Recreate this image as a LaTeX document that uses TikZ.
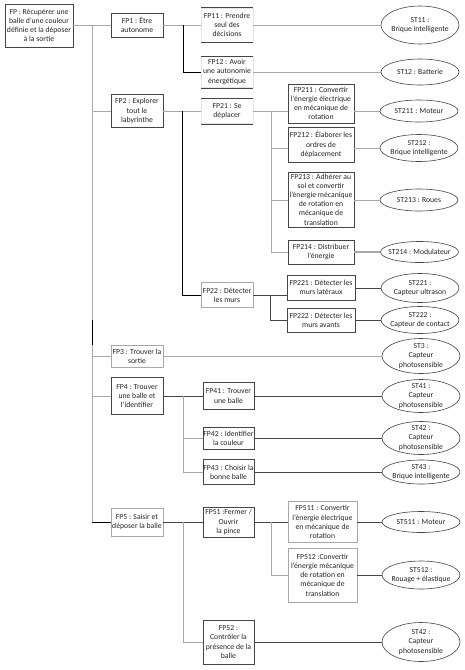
\documentclass[tikz,border=0pt]{standalone}
\usepackage{fontspec}
\setmainfont{Carlito}
\usetikzlibrary{shapes.geometric}
\definecolor{txt}{HTML}{262626}
\definecolor{ln}{HTML}{A8A8A8}
\definecolor{lnd}{HTML}{454545}
\begin{document}
\begin{tikzpicture}[x=1pt,y=-1pt,
  font=\fontsize{7.7}{9.2}\selectfont, text=txt,
  box/.style={rectangle, draw=lnd, line width=0.6pt, inner sep=0.5pt, align=center, fill=white},
  lbox/.style={box, draw=ln},
  tbbox/.style={box, draw=gray!20},
  st/.style={ellipse, draw=lnd, line width=0.6pt, inner sep=0pt, minimum width=78pt, fill=white},
  stl/.style={align=center, inner sep=0pt},
  conn/.style={draw=ln, line width=0.8pt},
  dconn/.style={draw=lnd, line width=0.7pt},
  bconn/.style={draw=black, line width=0.8pt},
  tb/.style={draw=lnd, line width=0.6pt}]
\useasboundingbox (0,0) rectangle (465,670);

% ---------- level 0 / 1 boxes ----------
\node[box, minimum width=68pt, minimum height=43pt] (fp) at (39,25.5) {FP : Récupérer une\\balle d'une couleur\\définie et la déposer\\à la sortie};
\node[box, minimum width=52pt, minimum height=24pt] (fp1) at (137,25) {FP1 : Être\\autonome};
\node[box, minimum width=52pt, minimum height=33pt] (fp2) at (137,111) {FP2 : Explorer\\tout le\\labyrinthe};
\node[lbox, minimum width=52pt, minimum height=22pt] (fp3) at (137,356) {FP3 : Trouver la\\sortie};
\node[box, minimum width=52pt, minimum height=37pt] (fp4) at (137,396) {FP4 : Trouver\\une balle et\\l'identifier};
\node[lbox, minimum width=52pt, minimum height=28pt] (fp5) at (137,522) {FP5 : Saisir et\\déposer la balle};

% ---------- level 2 boxes ----------
\node[tbbox, minimum width=52pt, minimum height=34pt] (fp11) at (227,25) {FP11 : Prendre\\seul des\\décisions};
\node[tbbox, minimum width=52pt, minimum height=31pt] (fp12) at (227,72) {FP12 : Avoir\\une autonomie\\énergétique};
\node[tbbox, minimum width=52pt, minimum height=25pt] (fp21) at (227,111) {FP21 : Se\\déplacer};
\node[lbox, minimum width=52pt, minimum height=25pt] (fp22) at (227,295) {FP22 : Détecter\\les murs};
\node[box, minimum width=51pt, minimum height=27pt] (fp41) at (228.5,396) {FP41 : Trouver\\une balle};
\node[box, minimum width=51pt, minimum height=22pt] (fp42) at (228.5,438) {FP42 : Identifier\\la couleur};
\node[box, minimum width=51pt, minimum height=25pt] (fp43) at (228.5,472) {FP43 : Choisir la\\bonne balle};
\node[box, minimum width=51pt, minimum height=30pt] (fp51) at (228.5,522) {FP51 :Fermer /\\Ouvrir\\la pince};
\node[box, minimum width=51pt, minimum height=44pt] (fp52) at (228.5,642) {FP52 :\\Contrôler la\\présence de la\\balle};

% ---------- level 3 boxes ----------
\node[box, minimum width=66pt, minimum height=39pt] (fp211) at (321,103.5) {FP211 : Convertir\\l'énergie électrique\\en mécanique de\\rotation};
\node[box, minimum width=66pt, minimum height=35pt] (fp212) at (321,144.5) {FP212 : Élaborer les\\ordres de\\déplacement};
\node[box, minimum width=66pt, minimum height=55pt] (fp213) at (321,199.5) {FP213 : Adhérer au\\sol et convertir\\l'énergie mécanique\\de rotation en\\mécanique de\\translation};
\node[box, minimum width=66pt, minimum height=24pt] (fp214) at (321,252) {FP214 : Distribuer\\l'énergie};
\node[box, minimum width=68pt, minimum height=25pt] (fp221) at (321,287.5) {FP221 : Détecter les\\murs latéraux};
\node[box, minimum width=68pt, minimum height=24pt] (fp222) at (321,320) {FP222 : Détecter les\\murs avants};
\node[lbox, minimum width=69pt, minimum height=41pt] (fp511) at (322.5,522) {FP511 : Convertir\\l'énergie électrique\\en mécanique de\\rotation};
\node[lbox, minimum width=69pt, minimum height=54pt] (fp512) at (322.5,575) {FP512 :Convertir\\l'énergie mécanique\\de rotation en\\mécanique de\\translation};

% ---------- solutions (ellipses) ----------
\node[st, minimum height=38pt, label={[stl]center:ST11 :\\Brique intelligente}] (st11) at (420,25) {};
\node[st, minimum height=26pt, label={[stl]center:ST12 : Batterie}] (st12) at (420,72) {};
\node[st, minimum height=22pt, label={[stl]center:ST211 : Moteur}] (st211) at (419,111) {};
\node[st, minimum height=27pt, label={[stl]center:ST212 :\\Brique intelligente}] (st212) at (419,148) {};
\node[st, minimum height=22pt, label={[stl]center:ST213 : Roues}] (st213) at (419,200) {};
\node[st, minimum height=21pt, label={[stl]center:ST214 : Modulateur}] (st214) at (419.5,252) {};
\node[st, minimum height=29pt, label={[stl]center:ST221 :\\Capteur ultrason}] (st221) at (420,288) {};
\node[st, minimum height=27pt, label={[stl]center:ST222 :\\Capteur de contact}] (st222) at (420,320) {};
\node[st, minimum height=35pt, label={[stl]center:ST3 :\\Capteur\\photosensible}] (st3) at (421,356) {};
\node[st, minimum height=33pt, label={[stl]center:ST41 :\\Capteur\\photosensible}] (st41) at (421,396) {};
\node[st, minimum height=33pt, label={[stl]center:ST42 :\\Capteur\\photosensible}] (st42) at (421,438) {};
\node[st, minimum height=24pt, label={[stl]center:ST43 :\\Brique intelligente}] (st43) at (421,472) {};
\node[st, minimum height=21pt, label={[stl]center:ST511 : Moteur}] (st511) at (421,522) {};
\node[st, minimum height=28pt, label={[stl]center:ST512 :\\Rouage + élastique}] (st512) at (421,575) {};
\node[st, minimum height=39pt, label={[stl]center:ST42 :\\Capteur\\photosensible}] (st42b) at (421,642) {};

% top/bottom borders of open boxes
\draw[tb] (fp11.north west) -- (fp11.north east) (fp11.south west) -- (fp11.south east);
\draw[tb] (fp12.north west) -- (fp12.north east) (fp12.south west) -- (fp12.south east);
\draw[tb] (fp21.north west) -- (fp21.north east) (fp21.south west) -- (fp21.south east);

% ---------- trunk ----------
\coordinate (t0) at (92,25);
\coordinate (tb1) at (92,320);
\coordinate (tb2) at (92,345);
\draw[conn] (fp.east |- t0) -- (fp1.west);
\draw[conn] (t0) -- (tb1);
\draw[bconn] (tb1) -- (tb2);
\draw[conn] (tb2) -- (t0 |- fp5);
\draw[conn] (t0 |- fp2) -- (fp2.west);
\draw[conn] (t0 |- fp3) -- (fp3.west);
\draw[conn] (t0 |- fp4) -- (fp4.west);
\draw[bconn] (t0 |- fp5) -- (fp5.west);

% ---------- FP1 ----------
\coordinate (v1) at (183,25);
\draw[conn] (fp1.east) -- (fp11.west);
\draw[bconn] (v1) |- (fp12.west);
\draw[conn] (fp11.east) -- (st11.west);
\draw[conn] (fp12.east) -- (st12.west);

% ---------- FP2 ----------
\coordinate (v2) at (182,111);
\draw[conn] (fp2.east) -- (fp21.west);
\draw[bconn] (v2) |- (fp22.west);
\coordinate (v21) at (271,111);
\draw[conn] (fp21.east) -- (fp21.east -| fp211.west);
\draw[conn] (v21) |- (fp214.west);
\coordinate (b212) at (271,148);
\coordinate (b213) at (271,200);
\draw[conn] (b212) -- (b212 -| fp212.west);
\draw[conn] (b213) -- (b213 -| fp213.west);
\draw[conn] (fp211.east |- st211) -- (st211.west);
\draw[conn] (fp212.east |- st212) -- (st212.west);
\draw[conn] (fp213.east |- st213) -- (st213.west);
\draw[conn, line width=1.4pt] (fp214.east) -- (st214.west);
\coordinate (v22) at (270,295);
\draw[dconn] (fp22.east) -- (fp22.east -| fp221.west);
\draw[dconn] (v22) |- (fp222.west);
\draw[dconn] (fp221.east |- st221) -- (st221.west);
\draw[dconn] (fp222.east) -- (st222.west);

% ---------- FP3 ----------
\draw[conn] (fp3.east) -- (st3.west);

% ---------- FP4 ----------
\coordinate (v4) at (183,396);
\draw[dconn] (fp4.east) -- (fp41.west);
\draw[conn] (v4) |- (fp43.west);
\draw[conn] (v4 |- fp42) -- (fp42.west);
\draw[dconn] (fp41.east) -- (st41.west);
\draw[dconn] (fp42.east) -- (st42.west);
\draw[dconn] (fp43.east) -- (st43.west);

% ---------- FP5 ----------
\coordinate (v5) at (183,522);
\draw[dconn] (fp5.east) -- (fp51.west);
\draw[conn] (v5) |- (fp52.west);
\coordinate (v51) at (271,522);
\draw[dconn] (fp51.east) -- (fp511.west);
\draw[conn] (v51) |- (fp512.west);
\draw[dconn] (fp511.east) -- (st511.west);
\draw[dconn] (fp512.east) -- (st512.west);
\draw[dconn] (fp52.east) -- (st42b.west);
\end{tikzpicture}
\end{document}
